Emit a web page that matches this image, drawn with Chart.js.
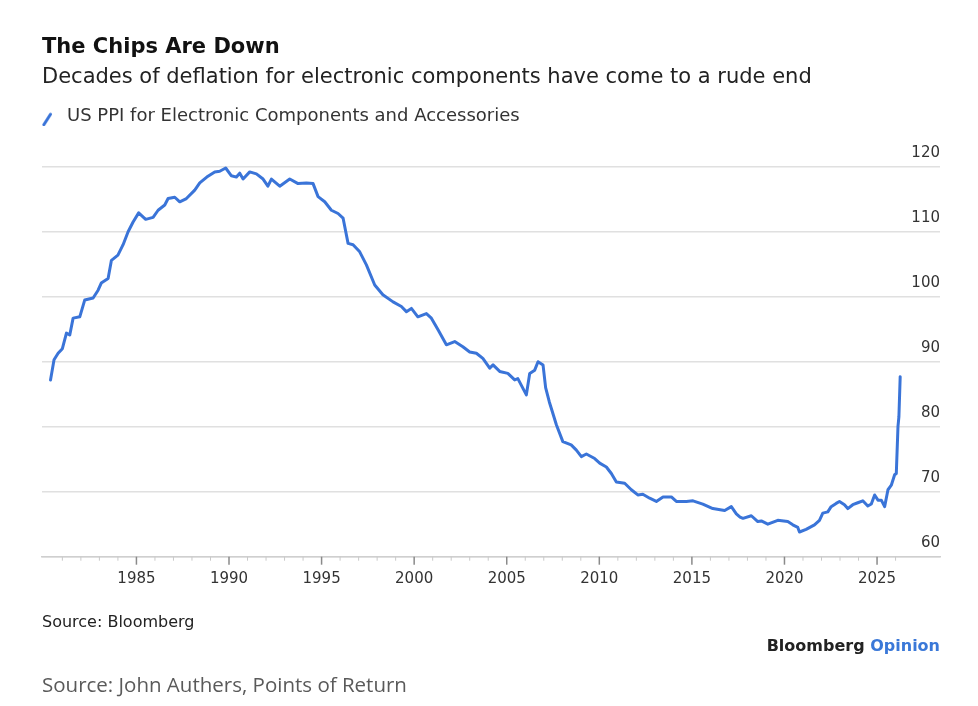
<!DOCTYPE html>
<html>
<head>
<meta charset="utf-8">
<script src="https://cdn.jsdelivr.net/npm/chart.js@4.4.1/dist/chart.umd.min.js"></script>
<style>
  html, body { margin: 0; padding: 0; background: #ffffff; }
  #wrap { position: relative; width: 978px; height: 706px; overflow: hidden; }
  canvas { position: absolute; left: 0; top: 0; }
  .txt { position: absolute; white-space: nowrap; line-height: 20px; }
  #src { left: 42px; top: 612px; font: 16px "DejaVu Sans", sans-serif; color: #222; }
  #brand { right: 38px; top: 636px; font: bold 16px "DejaVu Sans", sans-serif; color: #222; }
  #brand span { color: #3a78d8; }
  #foot { left: 42px; top: 670px; font: 20.5px "Open Sans", sans-serif; color: #5a5a5a; }
</style>
</head>
<body>
<div id="wrap">
  <canvas id="c" width="978" height="706"></canvas>
  <div class="txt" id="src">Source: Bloomberg</div>
  <div class="txt" id="brand">Bloomberg <span>Opinion</span></div>
  <div class="txt" id="foot">Source: John Authers, Points of Return</div>
</div>
<script>
// ---- Data ----
const titleText = "The Chips Are Down";
const subtitleText = "Decades of deflation for electronic components have come to a rude end";
const seriesLabel = "US PPI for Electronic Components and Accessories";

const years = [
  1980.36, 1980.55, 1980.77, 1981.0, 1981.22, 1981.4, 1981.58, 1981.94, 1982.21, 1982.66,
  1982.93, 1983.1, 1983.47, 1983.65, 1984.0, 1984.28, 1984.55, 1984.82, 1985.12, 1985.5,
  1985.9, 1986.17, 1986.53, 1986.71, 1987.07, 1987.34, 1987.7, 1988.15, 1988.42, 1988.8,
  1989.23, 1989.5, 1989.82, 1990.13, 1990.4, 1990.58, 1990.76, 1991.12, 1991.48, 1991.84,
  1992.1, 1992.29, 1992.74, 1993.28, 1993.73, 1994.18, 1994.54, 1994.81, 1995.17, 1995.53,
  1995.89, 1996.16, 1996.43, 1996.7, 1997.06, 1997.42, 1997.87, 1998.31, 1998.86, 1999.31,
  1999.58, 1999.85, 2000.2, 2000.66, 2000.93, 2001.29, 2001.74, 2002.19, 2002.63, 2003.0,
  2003.36, 2003.71, 2004.08, 2004.26, 2004.62, 2005.06, 2005.43, 2005.6, 2006.06, 2006.24,
  2006.51, 2006.69, 2006.96, 2007.1, 2007.3, 2007.41, 2007.68, 2008.03, 2008.48, 2008.76,
  2009.03, 2009.3, 2009.75, 2010.02, 2010.38, 2010.65, 2010.92, 2011.37, 2011.73, 2012.08,
  2012.35, 2012.72, 2013.08, 2013.44, 2013.89, 2014.16, 2014.7, 2015.06, 2015.59, 2016.13,
  2016.77, 2017.13, 2017.4, 2017.6, 2017.76, 2018.21, 2018.56, 2018.75, 2019.1, 2019.64,
  2020.18, 2020.45, 2020.72, 2020.81, 2021.17, 2021.62, 2021.89, 2022.07, 2022.34, 2022.52,
  2022.79, 2022.97, 2023.24, 2023.42, 2023.69, 2023.96, 2024.23, 2024.5, 2024.69, 2024.87,
  2025.05, 2025.23, 2025.41, 2025.59, 2025.77, 2025.95, 2026.04, 2026.13, 2026.18, 2026.25
];

const ppiValues = [
  87.2, 90.3, 91.3, 92.0, 94.4, 94.1, 96.7, 96.9, 99.5, 99.8,
  101.0, 102.1, 102.8, 105.6, 106.4, 108.0, 110.0, 111.5, 112.9, 111.9,
  112.2, 113.3, 114.1, 115.1, 115.3, 114.6, 115.1, 116.4, 117.5, 118.4,
  119.2, 119.3, 119.8, 118.6, 118.4, 119.0, 118.1, 119.2, 118.9, 118.1,
  117.0, 118.1, 117.0, 118.1, 117.4, 117.5, 117.4, 115.4, 114.6, 113.3,
  112.8, 112.1, 108.2, 108.0, 106.9, 104.9, 101.8, 100.3, 99.2, 98.5,
  97.7, 98.2, 96.9, 97.4, 96.7, 94.9, 92.6, 93.1, 92.3, 91.5,
  91.3, 90.5, 89.0, 89.5, 88.5, 88.2, 87.2, 87.4, 84.9, 88.2,
  88.7, 90.0, 89.5, 86.0, 83.8, 82.8, 80.3, 77.7, 77.2, 76.4,
  75.4, 75.8, 75.1, 74.4, 73.8, 72.8, 71.5, 71.3, 70.3, 69.5,
  69.6, 69.0, 68.5, 69.2, 69.2, 68.5, 68.5, 68.6, 68.1, 67.4,
  67.1, 67.7, 66.6, 66.1, 65.9, 66.3, 65.4, 65.5, 65.0, 65.6,
  65.4, 64.9, 64.5, 63.8, 64.2, 64.9, 65.6, 66.7, 66.9, 67.7,
  68.2, 68.5, 68.0, 67.4, 68.0, 68.3, 68.6, 67.8, 68.1, 69.5,
  68.7, 68.7, 67.7, 70.3, 71.0, 72.6, 72.8, 80.0, 81.5, 87.7
];

const yTickValues = [60, 70, 80, 90, 100, 110, 120];
const xMajorYears = [1985, 1990, 1995, 2000, 2005, 2010, 2015, 2020, 2025];
const xMinorFirst = 1981;
const xMinorLast = 2026;

// ---- Styling ----
const LINE_BLUE = '#3a74d8';
const FONT = '"DejaVu Sans", sans-serif';

// Legend icon: a short blue slash
const icon = document.createElement('canvas');
icon.width = 16; icon.height = 20;
(function () {
  const g = icon.getContext('2d');
  g.strokeStyle = LINE_BLUE;
  g.lineWidth = 3;
  g.lineCap = 'round';
  g.beginPath();
  g.moveTo(1.8, 18.5);
  g.lineTo(8.5, 8);
  g.stroke();
})();

const tickMarks = {
  id: 'tickMarks',
  afterDraw(chart) {
    const x = chart.scales.x;
    const ctx = chart.ctx;
    const y0 = x.top;
    ctx.save();
    x.ticks.forEach(t => {
      const major = xMajorYears.includes(t.value);
      const px = x.getPixelForValue(t.value);
      ctx.strokeStyle = major ? '#8a8a8a' : '#c9c9c9';
      ctx.lineWidth = major ? 1.5 : 1;
      ctx.beginPath();
      ctx.moveTo(px, y0);
      ctx.lineTo(px, y0 + (major ? 8 : 4));
      ctx.stroke();
    });
    ctx.restore();
  }
};

const whiteBg = {
  id: 'whiteBg',
  beforeDraw(chart) {
    const ctx = chart.ctx;
    ctx.save();
    ctx.fillStyle = '#ffffff';
    ctx.fillRect(0, 0, chart.width, chart.height);
    ctx.restore();
  }
};

new Chart(document.getElementById('c'), {
  type: 'line',
  data: {
    datasets: [{
      label: seriesLabel,
      data: years.map((y, i) => ({ x: y, y: ppiValues[i] })),
      borderColor: LINE_BLUE,
      backgroundColor: LINE_BLUE,
      borderWidth: 3,
      pointRadius: 0,
      tension: 0,
      borderJoinStyle: 'round',
      borderCapStyle: 'round'
    }]
  },
  options: {
    responsive: false,
    animation: false,
    devicePixelRatio: 1,
    layout: { padding: { left: 42, right: 38, top: 35.1, bottom: 109.3 } },
    plugins: {
      title: {
        display: true, text: titleText, align: 'start', color: '#111',
        font: { family: FONT, size: 21, weight: 'bold', lineHeight: 1.2 },
        padding: { top: 0, bottom: 0 }
      },
      subtitle: {
        display: true, text: subtitleText, align: 'start', color: '#222',
        font: { family: FONT, size: 21, weight: 'normal', lineHeight: 1.2 },
        padding: { top: 4.6, bottom: 17.2 }
      },
      legend: {
        display: true, position: 'top', align: 'start',
        labels: {
          usePointStyle: true, pointStyle: icon, pointStyleWidth: 16,
          padding: 0, color: '#333',
          font: { family: FONT, size: 18 }
        }
      },
      tooltip: { enabled: false }
    },
    scales: {
      x: {
        type: 'linear', min: 1979.9, max: 2028.4,
        afterBuildTicks(s) {
          s.ticks = s.ticks.filter(t => Number.isInteger(t.value) && t.value >= xMinorFirst && t.value <= xMinorLast);
        },
        afterFit(s) { s.height = 40; },
        grid: { display: false, drawTicks: false },
        border: { display: true, color: '#cfcfcf', width: 1.5 },
        ticks: {
          stepSize: 1, autoSkip: false, maxRotation: 0, padding: 13.3,
          color: '#333', font: { family: FONT, size: 15 },
          callback: v => (xMajorYears.includes(v) ? String(v) : '')
        }
      },
      y: {
        type: 'linear', position: 'right', min: 60, max: 124.83,
        afterBuildTicks(s) {
          s.ticks = yTickValues.map(v => ({ value: v }));
        },
        grid: { color: '#e0e0e0', lineWidth: 1.5, drawTicks: false },
        border: { display: false },
        ticks: {
          mirror: true, padding: 0, labelOffset: -14,
          color: '#333', font: { family: FONT, size: 15 }
        }
      }
    }
  },
  plugins: [whiteBg, tickMarks]
});
</script>
</body>
</html>
